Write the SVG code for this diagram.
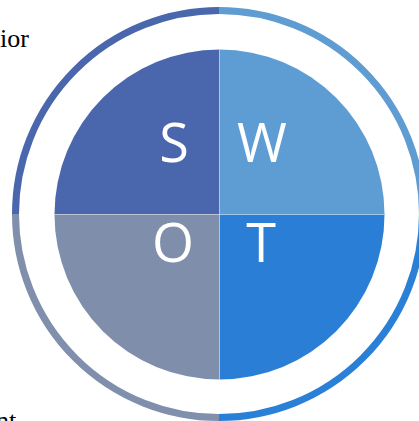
<svg xmlns="http://www.w3.org/2000/svg" width="419" height="421" viewBox="0 0 419 421">
<style>
.ring{fill:none;stroke-width:7}
.letter{font-family:"Segoe UI","Open Sans","Noto Sans",sans-serif;font-size:54px;fill:#ffffff;text-anchor:middle}
.side{font-family:"Liberation Serif","Times New Roman",serif;font-size:26px;fill:#000000}
.div{stroke:#ffffff;stroke-opacity:0.35;stroke-width:1}
</style>
<rect width="419" height="421" fill="#ffffff"/>
<text class="side" x="0" y="47">ior</text>
<text class="side" x="-4" y="429">nt</text>
<g id="connectors">
<path class="ring" stroke="#4A66AC" d="M15.5 214 A203.5 203.5 0 0 1 219 10.5"/>
<path class="ring" stroke="#5E9CD2" d="M219 10.5 A203.5 203.5 0 0 1 422.5 214"/>
<path class="ring" stroke="#2A7FD6" d="M422.5 214 A203.5 203.5 0 0 1 219 417.5"/>
<path class="ring" stroke="#7F8FAC" d="M219 417.5 A203.5 203.5 0 0 1 15.5 214"/>
</g>
<g id="S">
<path fill="#4A66AC" d="M219.5 214.5 L54.5 214.5 A165 165 0 0 1 219.5 49.5 Z"/>
<text class="letter" x="174" y="162">S</text>
</g>
<g id="W">
<path fill="#5E9DD3" d="M219.5 214.5 L219.5 49.5 A165 165 0 0 1 384.5 214.5 Z"/>
<text class="letter" x="262" y="162">W</text>
</g>
<g id="T">
<path fill="#2A7ED6" d="M219.5 214.5 L384.5 214.5 A165 165 0 0 1 219.5 379.5 Z"/>
<text class="letter" x="261" y="262">T</text>
</g>
<g id="O">
<path fill="#7F8FAB" d="M219.5 214.5 L219.5 379.5 A165 165 0 0 1 54.5 214.5 Z"/>
<text class="letter" x="173" y="262">O</text>
</g>
<line class="div" x1="219.5" y1="49.5" x2="219.5" y2="379.5"/>
<line class="div" x1="54.5" y1="214.5" x2="384.5" y2="214.5"/>
</svg>
